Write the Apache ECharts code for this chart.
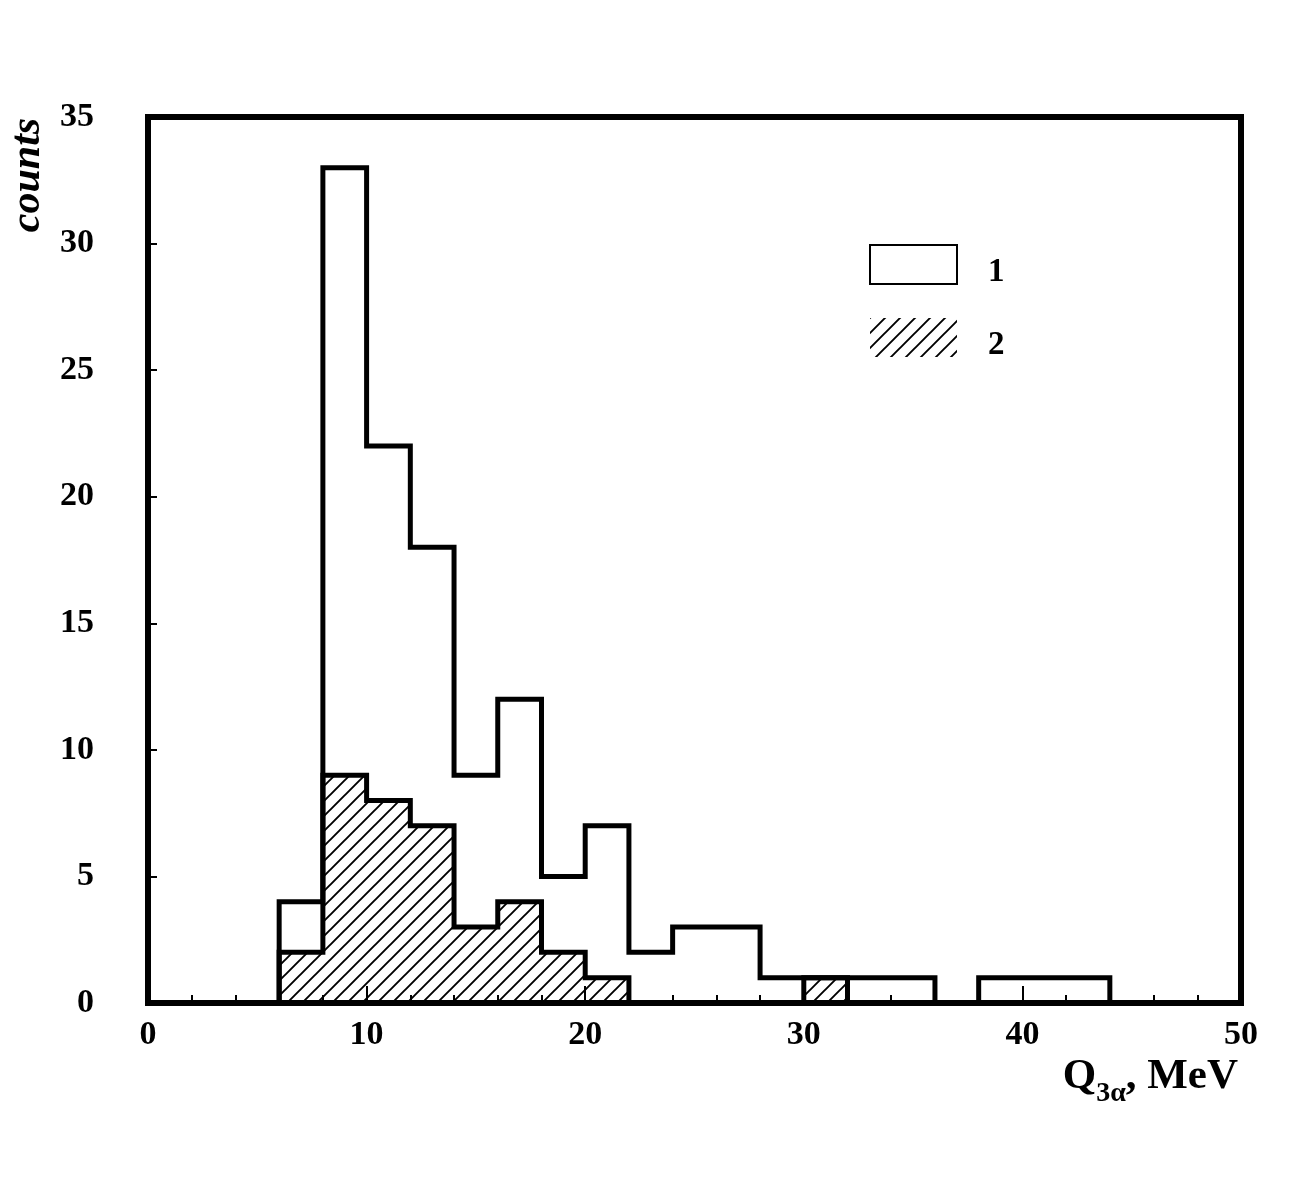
<!DOCTYPE html>
<html>
<head>
<meta charset="utf-8">
<script src="https://cdn.jsdelivr.net/npm/echarts@6/dist/echarts.min.js"></script>
<style>
  html, body { margin: 0; padding: 0; background: #fff; }
  #chart { width: 1300px; height: 1181px; }
</style>
</head>
<body>
<div id="chart"></div>
<script>
// bin edges (MeV) and counts of the two histograms
var binEdges = [6, 8, 10, 12, 14, 16, 18, 20, 22, 24, 26, 28, 30, 32, 34, 36, 38, 40, 42, 44];
var counts1 = [4, 33, 22, 18, 9, 12, 5, 7, 2, 3, 3, 1, 1, 1, 1, 0, 1, 1, 1];
var counts2 = [2, 9, 8, 7, 3, 4, 2, 1, 0, 0, 0, 0, 1, 0, 0, 0, 0, 0, 0];
var seriesNames = ['1', '2'];

(function () {
  var font = '"Liberation Serif", "DejaVu Serif", serif';

  // step points: start at baseline, one point per bin, close at baseline
  function stepPoints(counts) {
    var pts = [[binEdges[0], 0]];
    counts.forEach(function (c, i) { pts.push([binEdges[i], c]); });
    pts.push([binEdges[binEdges.length - 1], 0]);
    return pts;
  }

  // diagonal hatch tile
  var tile = document.createElement('canvas');
  var t = 15;
  tile.width = t; tile.height = t;
  var g = tile.getContext('2d');
  g.strokeStyle = '#000';
  g.lineWidth = 1.9;
  g.beginPath();
  g.moveTo(0, t); g.lineTo(t, 0);
  g.moveTo(-2, 2); g.lineTo(2, -2);
  g.moveTo(t - 2, t + 2); g.lineTo(t + 2, t - 2);
  g.stroke();
  var hatch = { image: tile, repeat: 'repeat' };

  var chart = echarts.init(document.getElementById('chart'));

  chart.setOption({
    animation: false,
    backgroundColor: '#fff',
    grid: {
      left: 148, right: 59, top: 117, bottom: 178,
      show: true, borderColor: '#000', borderWidth: 6, backgroundColor: 'transparent'
    },
    legend: {
      left: 869, top: 244, orient: 'vertical',
      padding: 0, itemWidth: 87, itemHeight: 39, itemGap: 29,
      selectedMode: false,
      formatter: '{n|{name}}',
      textStyle: {
        color: '#000',
        rich: {
          n: { fontFamily: font, fontWeight: 'bold', fontSize: 33, color: '#000', padding: [16, 0, 0, 26] }
        }
      },
      data: [
        { name: seriesNames[0], icon: 'rect', itemStyle: { color: '#fff', borderColor: '#000', borderWidth: 2 } },
        { name: seriesNames[1], icon: 'rect', itemStyle: { color: hatch, borderWidth: 0 } }
      ]
    },
    xAxis: {
      type: 'value', min: 0, max: 50, interval: 10,
      axisLine: { show: false },
      axisTick: { inside: true, length: 17, lineStyle: { color: '#000', width: 2 } },
      minorTick: { show: true, splitNumber: 5, length: 8, lineStyle: { color: '#000', width: 2 } },
      splitLine: { show: false },
      axisLabel: { margin: 15, color: '#000', fontFamily: font, fontWeight: 'bold', fontSize: 34 }
    },
    yAxis: {
      type: 'value', min: 0, max: 35, interval: 5,
      axisLine: { show: false },
      axisTick: { inside: true, length: 9, lineStyle: { color: '#000', width: 2 } },
      splitLine: { show: false },
      axisLabel: { margin: 54, padding: [6, 0, 0, 0], color: '#000', fontFamily: font, fontWeight: 'bold', fontSize: 34 }
    },
    graphic: [
      {
        type: 'text', x: 28, y: 175, rotation: Math.PI / 2,
        style: {
          text: 'counts', x: 0, y: 0, align: 'center', verticalAlign: 'middle',
          font: 'italic bold 42px ' + font, fill: '#000'
        }
      },
      {
        type: 'text', x: 1238, y: 1077,
        style: {
          text: '{m|Q}{sub|3α}{m|, MeV}', align: 'right', verticalAlign: 'middle',
          fill: '#000',
          rich: {
            m: { fontFamily: font, fontWeight: 'bold', fontSize: 43, lineHeight: 44, verticalAlign: 'top' },
            sub: { fontFamily: font, fontWeight: 'bold', fontSize: 28, lineHeight: 28, verticalAlign: 'top', padding: [25, 0, 0, 0] }
          }
        }
      }
    ],
    series: [
      {
        name: seriesNames[0], type: 'line', step: 'end', showSymbol: false, z: 2,
        lineStyle: { color: '#000', width: 5, join: 'miter', cap: 'square' },
        itemStyle: { color: '#000' },
        data: stepPoints(counts1)
      },
      {
        name: seriesNames[1], type: 'line', step: 'end', showSymbol: false, z: 3,
        lineStyle: { color: '#000', width: 5, join: 'miter', cap: 'square' },
        itemStyle: { color: '#000' },
        areaStyle: { color: hatch, opacity: 1 },
        data: stepPoints(counts2)
      }
    ]
  });
})();
</script>
</body>
</html>
